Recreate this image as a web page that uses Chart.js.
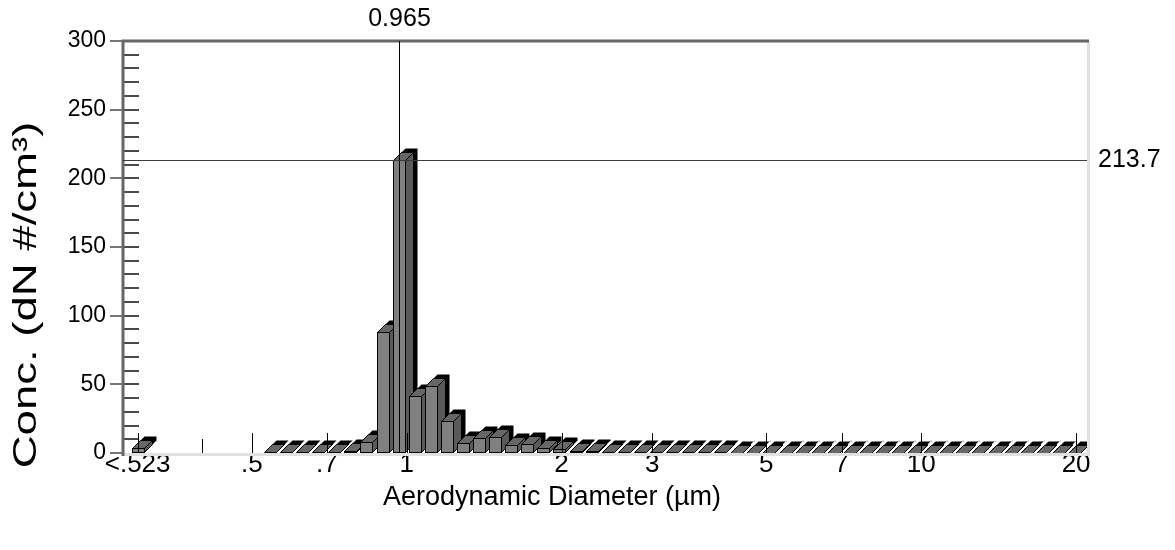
<!DOCTYPE html>
<html>
<head>
<meta charset="utf-8">
<script src="https://cdn.jsdelivr.net/npm/chart.js@4.4.0/dist/chart.umd.min.js"></script>
<style>
  html, body { margin: 0; padding: 0; background: #fff; }
</style>
</head>
<body>
<canvas id="aps" width="1175" height="550"></canvas>
<script>
// APS channel midpoints (um) and their concentrations (dN #/cm3)
const diameters = [0.542, 0.583, 0.626, 0.673, 0.723, 0.777, 0.835, 0.898, 0.965, 1.037,
    1.114, 1.197, 1.286, 1.382, 1.486, 1.596, 1.715, 1.843, 1.981, 2.129,
    2.288, 2.458, 2.642, 2.839, 3.051, 3.278, 3.523, 3.786, 4.068, 4.371,
    4.698, 5.048, 5.425, 5.829, 6.264, 6.732, 7.234, 7.774, 8.354, 8.977,
    9.647, 10.37, 11.14, 11.97, 12.86, 13.82, 14.86, 15.96, 17.15, 18.43, 19.81];
const conc = [0.4, 0.5, 0.5, 0.6, 0.7, 1.5, 8, 88, 213.7, 41.5,
    48.8, 23.3, 7.3, 10.9, 12, 5.5, 6.8, 4, 3, 1.8,
    1.3, 1, 0.8, 0.7, 0.6, 0.5, 0.5, 0.4, 0.4, 0.3,
    0.3, 0.3, 0.2, 0.2, 0.2, 0.2, 0.1, 0.1, 0.1, 0.1,
    0.1, 0.1, 0.1, 0.1, 0.1, 0, 0, 0, 0, 0, 0];
// the "<.523" bin
const underflowLabel = '<.523';
const underflowConc = 4;

const xTickValues = [0.3, 0.4, 0.5, 0.7, 1, 2, 3, 5, 7, 10, 20];
const xTickLabels = [underflowLabel, '', '.5', '.7', '1', '2', '3', '5', '7', '10', '20'];
const yMinorTicks = [10, 20, 30, 40, 50, 60, 70, 80, 90, 100, 110, 120, 130, 140, 150,
    160, 170, 180, 190, 200, 210, 220, 230, 240, 250, 260, 270, 280, 290];

const cursorX = 0.965;
const cursorY = 213.7;

const xTitle = 'Aerodynamic Diameter (µm)';
const yTitle = 'Conc. (dN #/cm³)';

const underflowAt = 0.3; // where the <.523 bin sits on the axis
const FONT = '"Liberation Sans", Arial, sans-serif';

const points = [{ x: underflowAt, y: underflowConc }]
    .concat(diameters.map((d, i) => ({ x: d, y: conc[i] })));

// 3d look of the bars (front, top, side and a black shadow)
const bars3d = {
    id: 'bars3d',
    afterDatasetsDraw(chart) {
        const c = chart.ctx;
        const a = chart.chartArea;
        const d = 8, s = 4;
        c.save();
        c.beginPath();
        c.rect(a.left, 0, a.right - a.left, a.bottom);
        c.clip();
        c.lineWidth = 1;
        c.strokeStyle = '#000';
        chart.getDatasetMeta(0).data.forEach(bar => {
            const x0 = Math.round(bar.x - bar.width / 2) + 0.5;
            const x1 = x0 + Math.round(bar.width);
            const yt = Math.round(bar.y) + 0.5;
            const yb = Math.round(bar.base) - 0.5;

            // shadow
            c.fillStyle = '#000';
            c.beginPath();
            c.moveTo(x0 + s, yb - s);
            c.lineTo(x0 + s, yt - s);
            c.lineTo(x0 + d + s, yt - d - s);
            c.lineTo(x1 + d + s, yt - d - s);
            c.lineTo(x1 + d + s, yb - d - s);
            c.lineTo(x1 + s, yb - s);
            c.closePath();
            c.fill();

            // side
            c.fillStyle = '#5a5a5a';
            c.beginPath();
            c.moveTo(x1, yt);
            c.lineTo(x1 + d, yt - d);
            c.lineTo(x1 + d, yb - d);
            c.lineTo(x1, yb);
            c.closePath();
            c.fill();
            c.stroke();

            // top
            c.fillStyle = '#676767';
            c.beginPath();
            c.moveTo(x0, yt);
            c.lineTo(x0 + d, yt - d);
            c.lineTo(x1 + d, yt - d);
            c.lineTo(x1, yt);
            c.closePath();
            c.fill();
            c.stroke();

            // front
            if (yb - yt > 0) {
                c.fillStyle = '#808080';
                c.fillRect(x0, yt, x1 - x0, yb - yt);
                c.strokeRect(x0, yt, x1 - x0, yb - yt);
            }
        });
        c.restore();
    }
};

// frame, tick marks, axis titles and the two cursors
const overlay = {
    id: 'overlay',
    afterDraw(chart) {
        const c = chart.ctx;
        const a = chart.chartArea;
        const xs = chart.scales.x;
        const ys = chart.scales.y;
        c.save();

        // light bottom / right edges
        c.strokeStyle = '#e1e1e1';
        c.lineWidth = 3;
        c.beginPath();
        c.moveTo(a.left, a.bottom + 1.5);
        c.lineTo(a.right + 1.5, a.bottom + 1.5);
        c.lineTo(a.right + 1.5, a.top);
        c.stroke();

        // y ticks
        c.strokeStyle = '#4a4a4a';
        c.lineWidth = 2;
        c.beginPath();
        yMinorTicks.forEach(v => {
            const y = Math.round(ys.getPixelForValue(v));
            c.moveTo(a.left, y);
            c.lineTo(a.left + 16, y);
        });
        c.stroke();
        c.lineWidth = 1.5;
        c.beginPath();
        ys.ticks.forEach(t => {
            const y = Math.round(ys.getPixelForValue(t.value));
            c.moveTo(a.left - 13, y);
            c.lineTo(a.left, y);
        });
        c.stroke();

        // x ticks inside the plot
        c.strokeStyle = '#000';
        c.lineWidth = 1;
        c.beginPath();
        xTickValues.forEach((v, i) => {
            const x = Math.round(xs.getPixelForValue(v)) + 0.5;
            const len = xTickLabels[i] ? 20 : 14;
            c.moveTo(x, a.bottom);
            c.lineTo(x, a.bottom - len);
        });
        c.stroke();

        // dark left / top edges
        c.strokeStyle = '#676767';
        c.lineWidth = 3;
        c.beginPath();
        c.moveTo(a.left, a.bottom + 3);
        c.lineTo(a.left, a.top);
        c.lineTo(a.right + 2, a.top);
        c.stroke();

        // cursors
        const cx = Math.round(xs.getPixelForValue(cursorX)) + 0.5;
        const cy = Math.round(ys.getPixelForValue(cursorY)) + 0.5;
        c.strokeStyle = '#000';
        c.lineWidth = 1;
        c.beginPath();
        c.moveTo(cx, a.top);
        c.lineTo(cx, a.bottom);
        c.stroke();
        c.strokeStyle = '#3c3c3c';
        c.beginPath();
        c.moveTo(a.left, cy);
        c.lineTo(a.right, cy);
        c.stroke();

        c.fillStyle = '#000';
        c.font = '25px ' + FONT;
        c.textBaseline = 'middle';
        c.textAlign = 'center';
        c.fillText(cursorX.toFixed(3), cx, 19);
        c.textAlign = 'left';
        c.fillText(cursorY.toFixed(1), a.right + 11, cy);

        // axis titles
        c.font = '27px ' + FONT;
        c.textAlign = 'center';
        c.fillText(xTitle, 552, 498);
        c.translate(27, 295);
        c.rotate(-Math.PI / 2);
        c.scale(1.38, 1); // the y title is drawn stretched along its length
        c.font = '33px ' + FONT;
        c.fillText(yTitle, 0, 0);
        c.restore();
    }
};

new Chart(document.getElementById('aps'), {
    type: 'bar',
    data: {
        datasets: [{
            label: 'Conc.',
            data: points,
            backgroundColor: 'rgba(0,0,0,0)',
            borderWidth: 0,
            barThickness: 12,
        }],
    },
    options: {
        responsive: false,
        animation: false,
        layout: {
            padding: { top: 41, right: 88, left: 0, bottom: 0 },
        },
        plugins: {
            legend: { display: false },
            tooltip: { enabled: false },
        },
        scales: {
            x: {
                type: 'logarithmic',
                min: 0.281,
                max: 21,
                bounds: 'data',
                offset: false,
                grid: { display: false, drawTicks: false },
                border: { display: false },
                afterBuildTicks: scale => {
                    scale.ticks = xTickValues.map(v => ({ value: v }));
                },
                afterFit: scale => {
                    scale.height = 97;
                    scale.paddingLeft = 0;
                    scale.paddingRight = 0;
                },
                ticks: {
                    autoSkip: false,
                    maxRotation: 0,
                    padding: 1,
                    color: '#000',
                    font: { family: FONT, size: 26, lineHeight: 0.8 },
                    callback: (v, i) => xTickLabels[i],
                },
            },
            y: {
                min: 0,
                max: 300,
                grid: { display: false, drawTicks: false },
                border: { display: false },
                afterFit: scale => {
                    scale.width = 123;
                    scale.paddingTop = 0;
                    scale.paddingBottom = 0;
                },
                ticks: {
                    stepSize: 50,
                    padding: 17,
                    color: '#000',
                    font: { family: FONT, size: 23 },
                },
            },
        },
    },
    plugins: [bars3d, overlay],
});
</script>
</body>
</html>
